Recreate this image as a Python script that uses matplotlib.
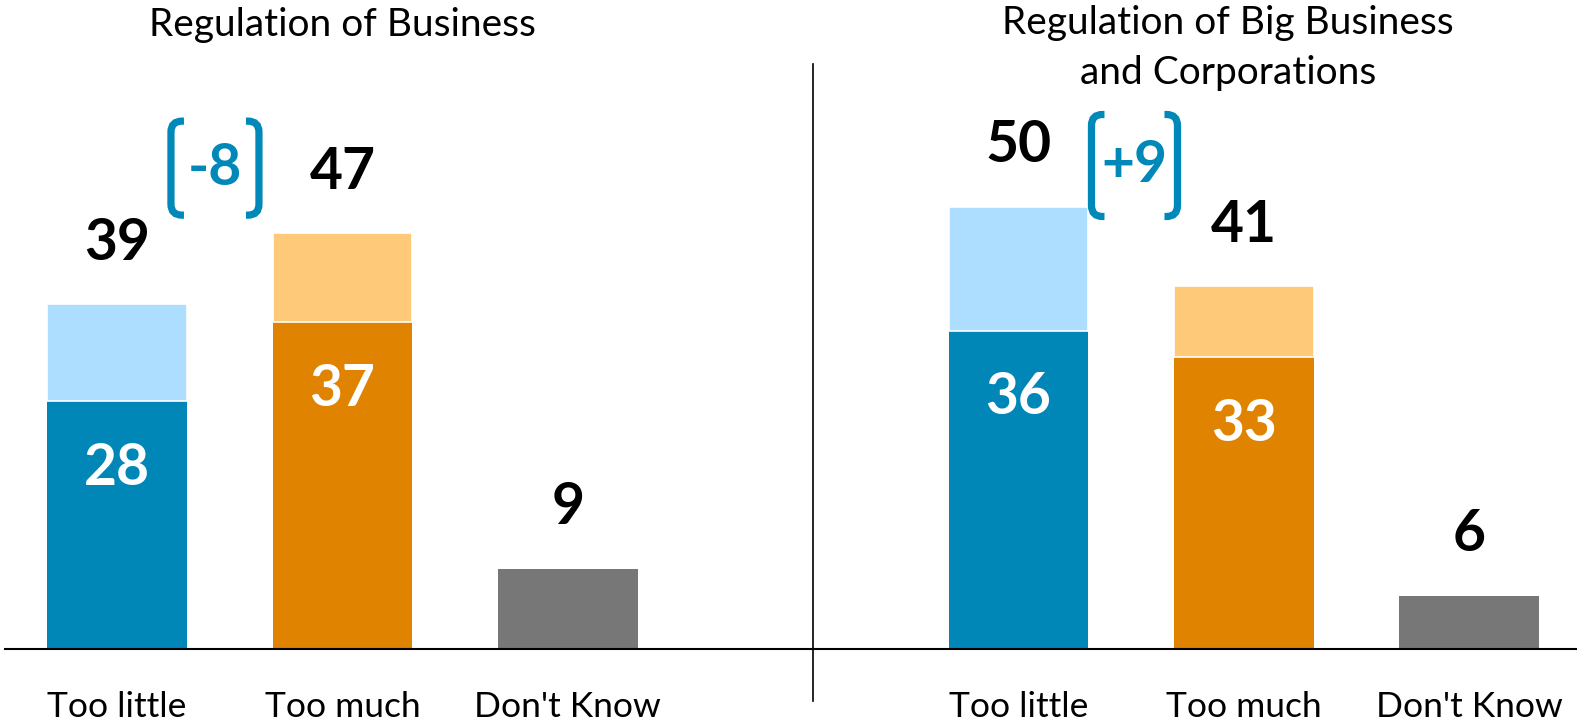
import matplotlib
matplotlib.use("Agg")
import matplotlib.pyplot as plt
from matplotlib.path import Path
from matplotlib.patches import PathPatch
from matplotlib.transforms import ScaledTranslation

# --- data ---
categories = ["Too little", "Too much", "Don't Know"]
panel_titles = ["Regulation of Business", "Regulation of Big Business\nand Corporations"]
totals_left = [39, 47, 9]
strong_left = [28, 37, None]
totals_right = [50, 41, 6]
strong_right = [36, 33, None]
diff_labels = ["-8", "+9"]

# --- style ---
DARK = ["#0087B7", "#E08300", "#777777"]
LIGHT = ["#ADDEFF", "#FFC97A", "#777777"]
BRACKET = "#0088B8"
FONT = "Lato"

plt.rcParams["font.family"] = [FONT, "DejaVu Sans"]

fig = plt.figure(figsize=(15.77, 7.22), dpi=100)
ax = fig.add_axes([0, 0, 1, 1])
ax.set_xlim(-0.520, 6.479)
ax.set_ylim(-8.32, 73.44)
ax.axis("off")

width = 0.62
panels = [
    ([0, 1, 2], totals_left, strong_left),
    ([4, 5, 6], totals_right, strong_right),
]

for xs, totals, strong in panels:
    for i, (x, tot, st) in enumerate(zip(xs, totals, strong)):
        if st is None:
            ax.bar(x, tot, width=width, color=DARK[i], linewidth=0)
        else:
            ax.bar(x, st, width=width, color=DARK[i], linewidth=0)
            ax.bar(x, tot - st, bottom=st, width=width, color=LIGHT[i],
                   edgecolor="white", linewidth=1.2)
            ax.annotate(str(st), (x, st), xytext=(0, -48.5), textcoords="offset points",
                        ha="center", va="center", fontsize=41, fontweight="bold",
                        color="white")
        ax.annotate(str(tot), (x, tot), xytext=(0, 44), textcoords="offset points",
                    ha="center", va="center", fontsize=41, fontweight="bold",
                    color="black")
        ax.text(x, -6.6, categories[i], ha="center", va="center", fontsize=25.5,
                color="black")

# titles
ax.text(1.0, 70.6, panel_titles[0], ha="center", va="center", fontsize=28)
ax.text(4.93, 68.0, panel_titles[1], ha="center", va="center", fontsize=28,
        linespacing=1.49)

# baseline and divider
ax.plot([-0.498, 6.479], [0, 0], color="black", linewidth=1.5, clip_on=False)
ax.plot([3.09, 3.09], [-5.95, 66.2], color="black", linewidth=1.2)


def bracket(cx, cy, half_w, half_h, hook=13, r=11):
    """Draw a pair of rounded brackets around (cx, cy); sizes in pixels."""
    trans = fig.dpi_scale_trans + ScaledTranslation(cx, cy, ax.transData)
    s = 1 / fig.dpi
    for side in (-1, 1):
        vx = side * half_w
        hx = vx - side * hook
        k = -side
        verts = [
            (hx, half_h), (vx + k * r, half_h),
            (vx, half_h), (vx, half_h - r),
            (vx, -half_h + r),
            (vx, -half_h), (vx + k * r, -half_h),
            (hx, -half_h),
        ]
        codes = [Path.MOVETO, Path.LINETO, Path.CURVE3, Path.CURVE3,
                 Path.LINETO, Path.CURVE3, Path.CURVE3, Path.LINETO]
        verts = [(a * s, b * s) for a, b in verts]
        ax.add_patch(PathPatch(Path(verts, codes), transform=trans, fill=False,
                               edgecolor=BRACKET, linewidth=5.2, capstyle="butt"))


# difference brackets
bracket(0.434, 54.4, 44, 47)
ax.text(0.434, 54.4, diff_labels[0], ha="center", va="center", fontsize=41,
        fontweight="bold", color=BRACKET)
bracket(4.515, 54.7, 43, 51)
ax.text(4.515, 54.7, diff_labels[1], ha="center", va="center", fontsize=41,
        fontweight="bold", color=BRACKET)

fig.savefig("out.png", dpi=100)
